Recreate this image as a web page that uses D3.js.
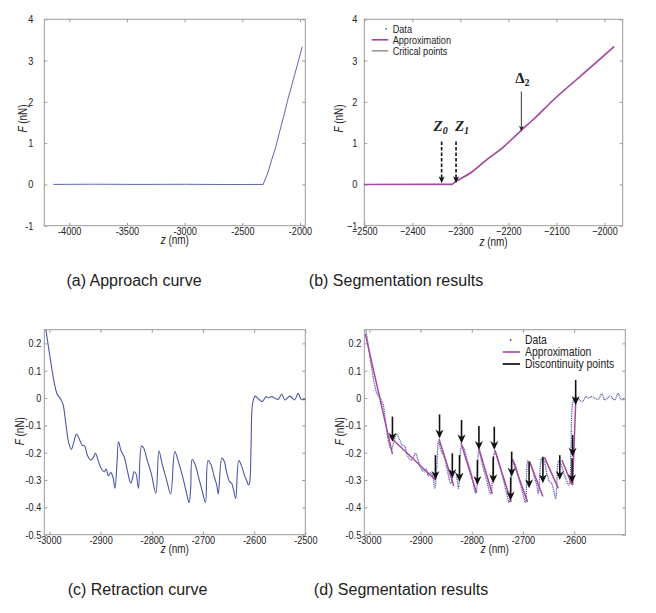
<!DOCTYPE html>
<html>
<head>
<meta charset="utf-8">
<script src="https://cdn.jsdelivr.net/npm/d3@7"></script>
<style>
  body { margin: 0; background: #fff; }
  text { font-family: "Liberation Sans", Arial, sans-serif; fill: #222; }
</style>
</head>
<body>
<div id="chart"></div>
<script>
// ---- data ----
// approach curve (z in nm, F in nN)
const approachZ = [-4138, -3800, -3400, -3000, -2600, -2318, -2311, -2280, -2246, -2211, -2176, -2142, -2107, -2050, -2000, -1980];
const approachF = [0, 0.005, 0, 0.003, -0.003, 0, 0.06, 0.27, 0.59, 0.90, 1.28, 1.64, 2.04, 2.62, 3.13, 3.34];

// retraction curve
const retractZ = [-3007, -3001, -2996, -2991, -2985, -2977, -2973, -2968, -2962, -2957, -2953, -2947, -2942, -2936, -2931, -2926, -2919, -2914, -2910, -2905, -2899, -2893, -2889, -2885, -2880, -2876, -2872, -2868, -2865, -2860, -2854, -2848, -2841, -2837, -2835, -2831, -2826, -2820, -2816, -2809, -2801, -2792, -2786, -2780, -2771, -2763, -2755, -2747, -2738, -2732, -2727, -2724, -2721, -2715, -2708, -2701, -2695, -2690, -2684, -2678, -2673, -2670, -2663, -2658, -2654, -2648, -2644, -2640, -2636, -2630, -2624, -2619, -2615, -2611, -2609, -2606, -2603, -2598, -2593, -2584, -2577, -2572, -2566, -2559, -2553, -2546, -2540, -2530, -2521, -2514, -2508, -2500];
const retractF = [0.251, 0.176, 0.115, 0.06, 0.015, -0.007, -0.026, -0.093, -0.166, -0.188, -0.166, -0.132, -0.148, -0.172, -0.176, -0.209, -0.227, -0.217, -0.202, -0.227, -0.257, -0.27, -0.26, -0.285, -0.273, -0.288, -0.33, -0.24, -0.16, -0.193, -0.215, -0.263, -0.312, -0.288, -0.27, -0.276, -0.33, -0.176, -0.182, -0.227, -0.276, -0.349, -0.193, -0.239, -0.3, -0.351, -0.196, -0.239, -0.3, -0.349, -0.382, -0.33, -0.224, -0.245, -0.294, -0.343, -0.382, -0.229, -0.245, -0.288, -0.318, -0.351, -0.22, -0.233, -0.27, -0.306, -0.312, -0.337, -0.368, -0.229, -0.251, -0.282, -0.3, -0.318, -0.312, -0.178, -0.02, 0.007, -0.001, -0.013, 0.005, 0.0, 0.005, -0.001, -0.005, 0.015, -0.007, 0.007, -0.007, 0.017, -0.005, -0.005];

// piecewise linear approximation in (d): start z, start F, end z, end F
const segStartZ = [-3008, -2961, -2864, -2821, -2786, -2755, -2720, -2687, -2658, -2624, -2603];
const segStartF = [0.235, -0.14, -0.15, -0.165, -0.185, -0.19, -0.227, -0.233, -0.217, -0.227, -0.318];
const segEndZ   = [-2955, -2871, -2835, -2791, -2760, -2723, -2691, -2661, -2631, -2604, -2597];
const segEndF   = [-0.205, -0.30, -0.322, -0.345, -0.35, -0.38, -0.38, -0.36, -0.33, -0.318, -0.02];

// discontinuity arrows in (d): z, F at tail, F at tip
const arrowZ   = [-2955, -2871, -2863, -2838, -2824, -2820, -2789, -2786, -2758, -2756, -2724, -2722, -2688, -2661, -2628, -2603, -2604, -2597];
const arrowTop = [-0.068, -0.209, -0.06, -0.202, -0.209, -0.08, -0.227, -0.102, -0.215, -0.105, -0.29, -0.196, -0.233, -0.215, -0.209, -0.135, -0.22, 0.066];
const arrowTip = [-0.16, -0.30, -0.148, -0.293, -0.306, -0.166, -0.318, -0.19, -0.312, -0.19, -0.375, -0.288, -0.33, -0.312, -0.30, -0.215, -0.312, -0.026];

// critical points in (b)
const critZ = [-2339, -2309];
const critSub = ["0", "1"];
const critLabelDx = [-1, 6];
const critTop = 1.04, critTip = 0.03;
const deltaZ = -2173, deltaTop = 2.25, deltaTip = 1.28;

// ticks
const aXTicks = [-4000, -3500, -3000, -2500, -2000];
const bXTicks = [-2500, -2400, -2300, -2200, -2100, -2000];
const abYTicks = [-1, 0, 1, 2, 3, 4];
const cXTicks = [-3000, -2900, -2800, -2700, -2600, -2500];
const dXTicks = [-3000, -2900, -2800, -2700, -2600];
const cdYTicks = [-0.5, -0.4, -0.3, -0.2, -0.1, 0, 0.1, 0.2];

const captions = ["(a) Approach curve", "(b) Segmentation results", "(c) Retraction curve", "(d) Segmentation results"];

const blue = "#4b57a8", magenta = "#a8479f", boxColor = "#9a9a9a";
const SX = 0.83; // the figure's sans text is horizontally condensed

const svg = d3.select("#chart").append("svg").attr("width", 656).attr("height", 613);

const hyphen = d => String(d);
const minus = d => (d < 0 ? "\u2212" : "") + Math.abs(d);

// condensed text placed at (x, y)
function ntext(sel, x, y, size, transformExtra = "") {
  return sel.append("text").attr("transform", `translate(${x},${y}) ${transformExtra} scale(${SX},1)`)
    .attr("font-size", size);
}

function panel(o) {
  const x = d3.scaleLinear().domain(o.xDomain).range([o.left, o.right]);
  const y = d3.scaleLinear().domain(o.yDomain).range([o.bottom, o.top]);
  const g = svg.append("g");

  const styleAxis = sel => {
    sel.select(".domain").remove();
    sel.selectAll("line").attr("stroke", boxColor);
    sel.selectAll("text").attr("font-size", 11).attr("fill", "#222")
      .attr("transform", `scale(${SX},1)`);
  };
  g.append("g").attr("transform", `translate(0,${o.bottom})`)
    .call(d3.axisBottom(x).tickValues(o.xTicks).tickFormat(o.fmt).tickSize(-3).tickPadding(o.xPad))
    .call(styleAxis);
  g.append("g").attr("transform", `translate(0,${o.top})`)
    .call(d3.axisTop(x).tickValues(o.xTicks).tickFormat("").tickSize(-3))
    .call(styleAxis);
  g.append("g").attr("transform", `translate(${o.left},0)`)
    .call(d3.axisLeft(y).tickValues(o.yTicks).tickFormat(o.fmt).tickSize(-3).tickPadding(o.yPad / SX))
    .call(styleAxis);
  g.append("g").attr("transform", `translate(${o.right},0)`)
    .call(d3.axisRight(y).tickValues(o.yTicks).tickFormat("").tickSize(-3))
    .call(styleAxis);

  g.append("rect").attr("x", o.left).attr("y", o.top)
    .attr("width", o.right - o.left).attr("height", o.bottom - o.top)
    .attr("fill", "none").attr("stroke", boxColor).attr("stroke-width", 1);

  // axis titles
  ntext(g, (o.left + o.right) / 2, o.xTitleY, 12).attr("text-anchor", "middle")
    .html('<tspan font-style="italic">z</tspan> (nm)');
  ntext(g, o.left + o.yTitleDx, (o.top + o.bottom) / 2 + o.yTitleDy, 12, "rotate(-90)")
    .attr("text-anchor", "middle")
    .html('<tspan font-style="italic">F</tspan> (nN)');

  // caption
  svg.append("text").attr("x", o.capX).attr("y", o.capY).attr("text-anchor", "middle")
    .attr("font-size", 16).attr("fill", "#1a1a1a").text(o.caption);

  const clipId = "clip" + o.id;
  svg.append("clipPath").attr("id", clipId).append("rect")
    .attr("x", o.left).attr("y", o.top).attr("width", o.right - o.left).attr("height", o.bottom - o.top);
  const plot = g.append("g").attr("clip-path", `url(#${clipId})`);
  return { x, y, g, plot };
}

function arrowHead(sel, px, py, w, l, color) {
  sel.append("path")
    .attr("d", `M${px},${py} L${px - w / 2},${py - l} L${px},${py - l * 0.7} L${px + w / 2},${py - l} Z`)
    .attr("fill", color);
}

// ---- (a) approach curve ----
{
  const p = panel({ id: "a", left: 44.3, right: 305.3, top: 19.3, bottom: 225.7,
    xDomain: [-4216, -1954], yDomain: [-1, 4], xTicks: aXTicks, yTicks: abYTicks, fmt: hyphen,
    xPad: 1, yPad: 11, xTitleY: 243.5, yTitleDx: -17, yTitleDy: -4, capX: 134, capY: 286, caption: captions[0] });
  const line = d3.line().x((d, i) => p.x(approachZ[i])).y(d => p.y(d));
  p.plot.append("path").datum(approachF).attr("d", line)
    .attr("fill", "none").attr("stroke", blue).attr("stroke-width", 0.9);
}

// ---- (b) segmentation of approach ----
{
  const p = panel({ id: "b", left: 364.3, right: 622.7, top: 19.3, bottom: 225.7,
    xDomain: [-2500, -1962], yDomain: [-1, 4], xTicks: bXTicks, yTicks: abYTicks, fmt: minus,
    xPad: 1, yPad: 7, xTitleY: 245.5, yTitleDx: -21, yTitleDy: -4, capX: 396, capY: 286, caption: captions[1] });
  const line = d3.line().x((d, i) => p.x(approachZ[i])).y(d => p.y(d)).curve(d3.curveMonotoneX);
  p.plot.append("path").datum(approachF).attr("d", line)
    .attr("fill", "none").attr("stroke", blue).attr("stroke-width", 1);
  p.plot.append("path").datum(approachF).attr("d", line)
    .attr("fill", "none").attr("stroke", magenta).attr("stroke-width", 1.6);

  // critical points Z0, Z1 (dashed arrows)
  critZ.forEach((z, i) => {
    const px = p.x(z), y0 = p.y(critTop), y1 = p.y(critTip);
    p.g.append("line").attr("x1", px).attr("x2", px).attr("y1", y0).attr("y2", y1 - 5)
      .attr("stroke", "#111").attr("stroke-width", 1.6).attr("stroke-dasharray", "3.5,2");
    arrowHead(p.g, px, y1, 6, 7, "#111");
    p.g.append("text").attr("x", px + critLabelDx[i]).attr("y", y0 - 10).attr("text-anchor", "middle")
      .style("font-family", '"Liberation Serif", "Times New Roman", serif')
      .attr("font-weight", "bold").attr("font-style", "italic").attr("font-size", 15).attr("fill", "#111")
      .html(`Z<tspan font-size="10" dy="3">${critSub[i]}</tspan>`);
  });
  // Delta 2 arrow
  {
    const px = p.x(deltaZ), y0 = p.y(deltaTop), y1 = p.y(deltaTip);
    p.g.append("line").attr("x1", px).attr("x2", px).attr("y1", y0).attr("y2", y1 - 4)
      .attr("stroke", "#222").attr("stroke-width", 0.9);
    arrowHead(p.g, px, y1, 5, 6, "#222");
    p.g.append("text").attr("x", px + 1).attr("y", y0 - 9).attr("text-anchor", "middle")
      .style("font-family", '"Liberation Serif", "Times New Roman", serif')
      .attr("font-weight", "bold").attr("font-size", 15).attr("fill", "#111")
      .html(`\u0394<tspan font-size="10" dy="3">2</tspan>`);
  }
  // legend
  const lg = p.g.append("g");
  const rows = [["Data", "dot"], ["Approximation", magenta], ["Critical points", "#999"]];
  rows.forEach((r, i) => {
    const yy = 28.8 + i * 11;
    if (r[1] === "dot") lg.append("circle").attr("cx", 386).attr("cy", yy).attr("r", 0.9).attr("fill", blue);
    else lg.append("line").attr("x1", 371.7).attr("x2", 388.3).attr("y1", yy).attr("y2", yy)
      .attr("stroke", r[1]).attr("stroke-width", 1.6);
    ntext(lg, 392.7, yy + 3.8, 11).text(r[0]);
  });
}

// ---- (c) retraction curve ----
{
  const p = panel({ id: "c", left: 44.3, right: 305.3, top: 329.7, bottom: 534.7,
    xDomain: [-3010, -2500], yDomain: [-0.5, 0.25], xTicks: cXTicks, yTicks: cdYTicks, fmt: hyphen,
    xPad: 1, yPad: 3, xTitleY: 553, yTitleDx: -20, yTitleDy: -1, capX: 137.5, capY: 595, caption: captions[2] });
  const line = d3.line().x((d, i) => p.x(retractZ[i])).y(d => p.y(d)).curve(d3.curveCatmullRom);
  p.plot.append("path").datum(retractF).attr("d", line)
    .attr("fill", "none").attr("stroke", blue).attr("stroke-width", 1.1);
}

// ---- (d) segmentation of retraction ----
{
  const p = panel({ id: "d", left: 364.3, right: 625.3, top: 329.7, bottom: 534.7,
    xDomain: [-3010, -2500], yDomain: [-0.5, 0.25], xTicks: dXTicks, yTicks: cdYTicks, fmt: hyphen,
    xPad: 1, yPad: 3, xTitleY: 553, yTitleDx: -20, yTitleDy: -1, capX: 401, capY: 595, caption: captions[3] });
  const line = d3.line().x((d, i) => p.x(retractZ[i])).y(d => p.y(d)).curve(d3.curveCatmullRom);
  p.plot.append("path").datum(retractF).attr("d", line)
    .attr("fill", "none").attr("stroke", blue).attr("stroke-width", 1.3).attr("stroke-dasharray", "1,0.8");

  p.plot.selectAll("line.seg").data(segStartZ).join("line").attr("class", "seg")
    .attr("x1", (d, i) => p.x(d)).attr("y1", (d, i) => p.y(segStartF[i]))
    .attr("x2", (d, i) => p.x(segEndZ[i])).attr("y2", (d, i) => p.y(segEndF[i]))
    .attr("stroke", magenta).attr("stroke-width", 1.5);

  arrowZ.forEach((z, i) => {
    const px = p.x(z), y0 = p.y(arrowTop[i]), y1 = p.y(arrowTip[i]);
    p.g.append("line").attr("x1", px).attr("x2", px).attr("y1", y0).attr("y2", y1 - 5)
      .attr("stroke", "#111").attr("stroke-width", 1.6);
    arrowHead(p.g, px, y1, 8, 9, "#111");
  });

  // legend
  const lg = p.g.append("g");
  const rows = [["Data", "dot"], ["Approximation", magenta], ["Discontinuity points", "#333"]];
  rows.forEach((r, i) => {
    const yy = 340 + i * 12;
    if (r[1] === "dot") lg.append("circle").attr("cx", 510.7).attr("cy", yy).attr("r", 0.9).attr("fill", blue);
    else lg.append("line").attr("x1", 502.7).attr("x2", 520).attr("y1", yy).attr("y2", yy)
      .attr("stroke", r[1]).attr("stroke-width", i === 2 ? 2 : 1.6);
    ntext(lg, 525, yy + 4.3, 12.5).text(r[0]);
  });
}
</script>
</body>
</html>
